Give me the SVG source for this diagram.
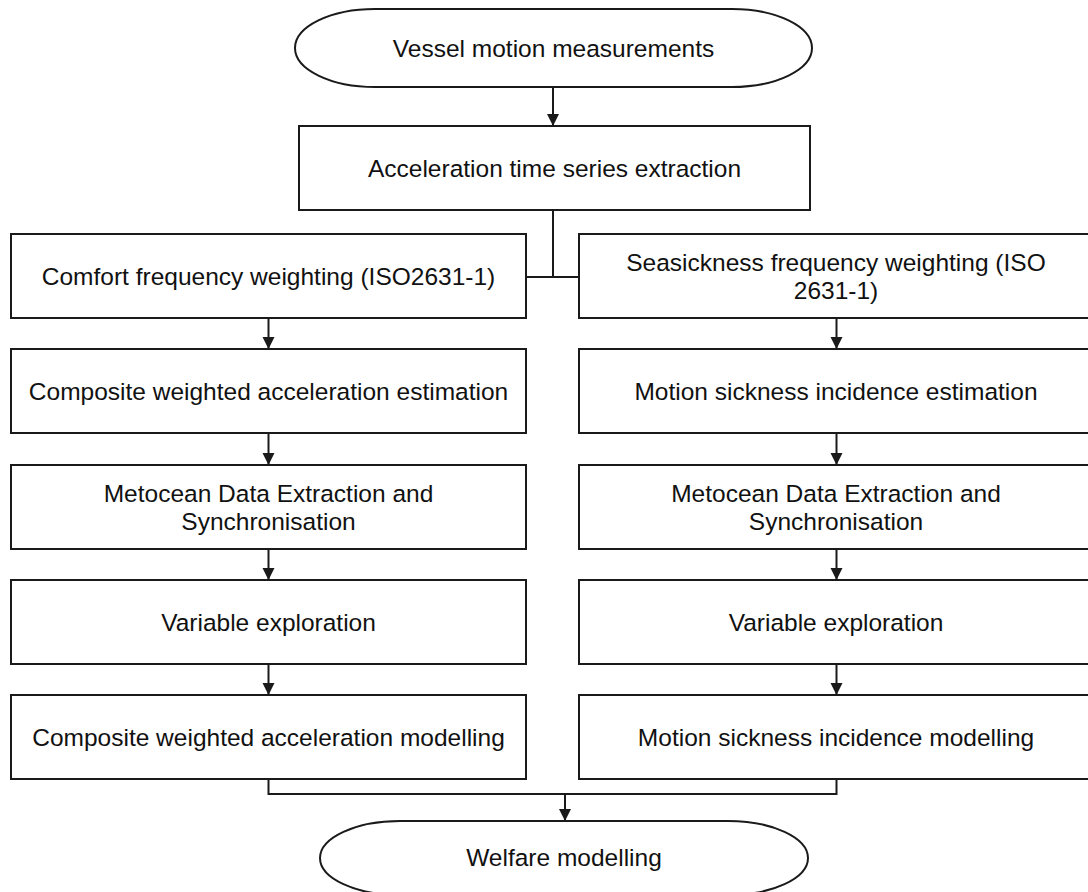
<svg xmlns="http://www.w3.org/2000/svg" width="1088" height="892" viewBox="0 0 1088 892">
<style>
.box{fill:#fff;stroke:#1a1a1a;stroke-width:2}
.t{font-family:"Liberation Sans",Arial,sans-serif;font-size:24.5px;fill:#111;text-anchor:middle}
.c{fill:none;stroke:#1a1a1a;stroke-width:2}
</style>
<defs>
<marker id="ah" markerUnits="userSpaceOnUse" markerWidth="12" markerHeight="14" refX="12" refY="6" orient="auto" viewBox="0 0 12 12">
<path d="M0,0 L12,6 L0,12 Z" fill="#1a1a1a"/>
</marker>
</defs>
<rect width="1088" height="892" fill="#fff"/>
<g id="connectors">
<line class="c" x1="553" y1="87" x2="553" y2="126" marker-end="url(#ah)"/>
<polyline class="c" points="553,210 553,277"/>
<line class="c" x1="526" y1="277" x2="579" y2="277"/>
<line class="c" x1="268.5" y1="318" x2="268.5" y2="349" marker-end="url(#ah)"/>
<line class="c" x1="268.5" y1="433" x2="268.5" y2="465" marker-end="url(#ah)"/>
<line class="c" x1="268.5" y1="549" x2="268.5" y2="580" marker-end="url(#ah)"/>
<line class="c" x1="268.5" y1="664" x2="268.5" y2="695" marker-end="url(#ah)"/>
<line class="c" x1="836.5" y1="318" x2="836.5" y2="349" marker-end="url(#ah)"/>
<line class="c" x1="836.5" y1="433" x2="836.5" y2="465" marker-end="url(#ah)"/>
<line class="c" x1="836.5" y1="549" x2="836.5" y2="580" marker-end="url(#ah)"/>
<line class="c" x1="836.5" y1="664" x2="836.5" y2="695" marker-end="url(#ah)"/>
<polyline class="c" points="268.5,779 268.5,794 836.5,794 836.5,779"/>
<line class="c" x1="565" y1="794" x2="565" y2="821" marker-end="url(#ah)"/>
</g>
<g id="start">
<rect class="box" x="295" y="9" width="517" height="78" rx="80" ry="39"/>
<text class="t" x="553.5" y="57">Vessel motion measurements</text>
</g>
<g id="accel">
<rect class="box" x="299" y="126" width="511" height="84"/>
<text class="t" x="554.5" y="176.5">Acceleration time series extraction</text>
</g>
<g id="comfort">
<rect class="box" x="11" y="234" width="515" height="84"/>
<text class="t" x="268.5" y="284.5">Comfort frequency weighting (ISO2631-1)</text>
</g>
<g id="seasick">
<rect class="box" x="579" y="234" width="515" height="84"/>
<text class="t" x="836" y="270.5">Seasickness frequency weighting (ISO</text>
<text class="t" x="836" y="298.5">2631-1)</text>
</g>
<g id="cwa-est">
<rect class="box" x="11" y="349" width="515" height="84"/>
<text class="t" x="268.5" y="399.5">Composite weighted acceleration estimation</text>
</g>
<g id="msi-est">
<rect class="box" x="579" y="349" width="515" height="84"/>
<text class="t" x="836" y="399.5">Motion sickness incidence estimation</text>
</g>
<g id="meto-l">
<rect class="box" x="11" y="465" width="515" height="84"/>
<text class="t" x="268.5" y="501.5">Metocean Data Extraction and</text>
<text class="t" x="268.5" y="529.5">Synchronisation</text>
</g>
<g id="meto-r">
<rect class="box" x="579" y="465" width="515" height="84"/>
<text class="t" x="836" y="501.5">Metocean Data Extraction and</text>
<text class="t" x="836" y="529.5">Synchronisation</text>
</g>
<g id="var-l">
<rect class="box" x="11" y="580" width="515" height="84"/>
<text class="t" x="268.5" y="630.5">Variable exploration</text>
</g>
<g id="var-r">
<rect class="box" x="579" y="580" width="515" height="84"/>
<text class="t" x="836" y="630.5">Variable exploration</text>
</g>
<g id="cwa-mod">
<rect class="box" x="11" y="695" width="515" height="84"/>
<text class="t" x="268.5" y="745.5">Composite weighted acceleration modelling</text>
</g>
<g id="msi-mod">
<rect class="box" x="579" y="695" width="515" height="84"/>
<text class="t" x="836" y="745.5">Motion sickness incidence modelling</text>
</g>
<g id="end">
<rect class="box" x="320" y="821" width="488" height="74" rx="80" ry="37"/>
<text class="t" x="564" y="866">Welfare modelling</text>
</g>
</svg>
